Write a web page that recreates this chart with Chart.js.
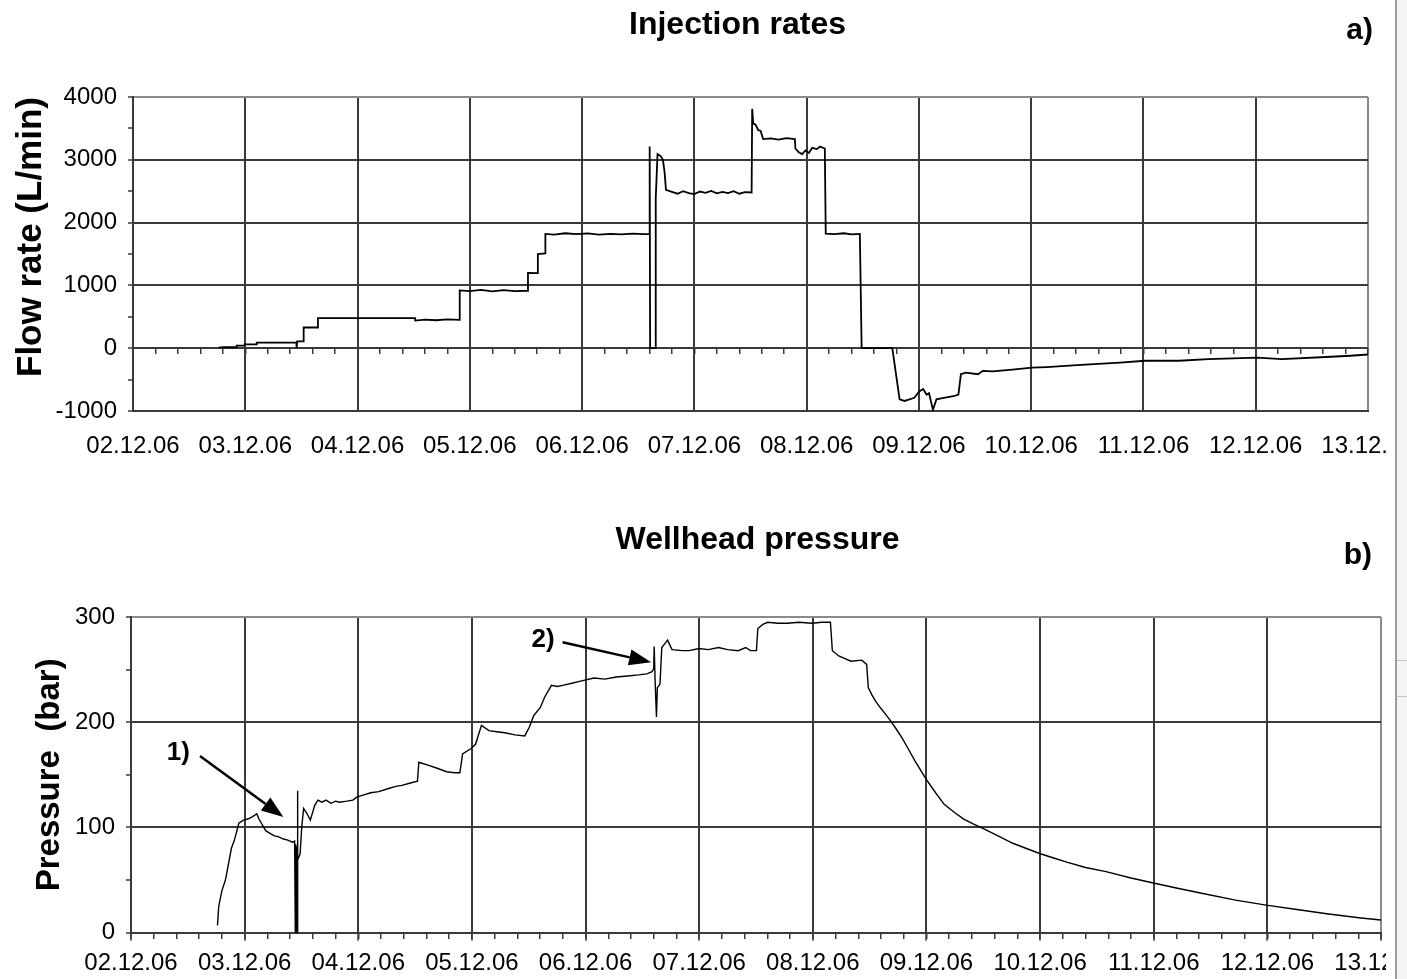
<!DOCTYPE html>
<html>
<head>
<meta charset="utf-8">
<script src="https://cdn.jsdelivr.net/npm/chart.js@4/dist/chart.umd.min.js"></script>
<style>
  html, body { margin:0; padding:0; background:#fff; overflow:hidden; width:1407px; height:979px; }
  canvas { position:absolute; left:0; }
  #c1 { top:0; }
  #c2 { top:470px; }
  .edge { position:absolute; top:0; height:979px; }
</style>
</head>
<body>
<canvas id="c1" width="1475" height="470"></canvas>
<canvas id="c2" width="1515" height="509"></canvas>
<div class="edge" style="left:1386px;width:9px;background:#fff;"></div>
<div class="edge" style="left:1395px;width:2px;background:#9c9c9c;"></div>
<div class="edge" style="left:1397px;width:10px;background:#f4f4f4;"></div>
<div style="position:absolute;left:1397px;top:660px;width:10px;height:1px;background:#c4c4c4;"></div>
<div style="position:absolute;left:1397px;top:696px;width:10px;height:1px;background:#c4c4c4;"></div>
<script>
// ---------- data ----------
const dayLabels = ['02.12.06','03.12.06','04.12.06','05.12.06','06.12.06','07.12.06',
                   '08.12.06','09.12.06','10.12.06','11.12.06','12.12.06','13.12.06'];
const chartTitles = ['Injection rates', 'Wellhead pressure'];
const axisTitles = ['Flow rate (L/min)', 'Pressure  (bar)'];
const panelLabels = ['a)', 'b)'];

// Injection rate (L/min) vs day of December 2006
const flowDays = [
  2.764,2.800,2.923,2.924,2.994,2.995,3.101,3.102,3.455,3.458,3.462,3.519,3.520,3.646,3.647,
  4.300,4.513,4.514,4.600,4.700,4.800,4.909,4.910,5.000,5.100,5.200,5.300,5.400,5.517,5.518,
  5.605,5.606,5.672,5.673,5.750,5.850,5.950,6.050,6.150,6.250,6.350,6.450,6.550,6.600,6.602,
  6.606,6.653,6.656,6.672,6.700,6.720,6.735,6.747,6.800,6.850,6.900,6.950,7.000,7.050,7.100,
  7.150,7.200,7.250,7.300,7.350,7.400,7.450,7.510,7.515,7.524,7.545,7.568,7.590,7.613,7.680,
  7.750,7.820,7.895,7.900,7.930,7.960,7.990,8.020,8.050,8.090,8.120,8.162,8.170,8.250,8.330,
  8.400,8.474,8.490,8.763,8.828,8.872,8.959,9.003,9.038,9.069,9.090,9.125,9.156,9.221,9.308,
  9.352,9.374,9.418,9.526,9.570,9.657,9.832,10.007,10.138,10.443,10.793,11.011,11.317,11.578,
  12.014,12.233,12.626,12.844,13.000
];
const flowRates = [
  10,15,15,40,40,60,60,90,90,0,110,110,330,330,480,
  480,478,440,455,445,460,450,920,910,930,905,925,910,915,1200,
  1195,1500,1510,1820,1810,1830,1815,1828,1808,1822,1812,1826,1815,1820,3210,
  0,0,2390,3090,3060,3000,2800,2520,2490,2460,2500,2470,2455,2495,2475,
  2505,2465,2490,2470,2500,2460,2485,2480,3810,3580,3560,3475,3460,3330,3340,
  3320,3345,3330,3180,3120,3090,3150,3110,3190,3170,3210,3180,1825,1815,1830,
  1812,1820,0,0,-815,-840,-790,-690,-650,-740,-715,-980,-815,-790,-765,
  -740,-415,-390,-415,-360,-370,-340,-310,-300,-265,-230,-200,-200,-175,
  -150,-175,-140,-120,-100
];

// Wellhead pressure (bar) vs day of December 2006
const pressDays = [
  2.761,2.772,2.800,2.831,2.859,2.883,2.910,2.949,2.989,3.028,3.067,3.107,3.126,3.185,3.230,
  3.264,3.300,3.342,3.380,3.421,3.440,3.446,3.450,3.454,3.458,3.462,3.465,3.468,3.488,3.503,
  3.519,3.550,3.578,3.617,3.645,3.680,3.716,3.760,3.800,3.834,3.900,3.952,3.991,4.050,4.109,
  4.180,4.267,4.330,4.384,4.450,4.521,4.533,4.620,4.700,4.777,4.850,4.894,4.918,4.993,5.032,
  5.084,5.150,5.220,5.288,5.380,5.465,5.504,5.543,5.602,5.641,5.700,5.750,5.798,5.880,5.956,
  6.074,6.170,6.270,6.370,6.467,6.540,6.585,6.600,6.604,6.612,6.624,6.632,6.655,6.671,6.700,
  6.722,6.761,6.850,6.912,7.000,7.080,7.171,7.250,7.343,7.409,7.452,7.504,7.516,7.560,7.603,
  7.690,7.775,7.880,7.991,8.080,8.155,8.172,8.228,8.336,8.431,8.474,8.488,8.520,8.552,8.600,
  8.638,8.680,8.725,8.780,8.833,8.900,8.997,9.080,9.156,9.250,9.328,9.420,9.501,9.630,9.760,
  9.880,10.002,10.120,10.235,10.400,10.580,10.800,11.007,11.220,11.443,11.720,12.004,12.260,
  12.522,12.824,13.000
];
const pressValues = [
  7,25,40,50,66,80,88,104,107,108,110,113,108,97,94,
  92,91,89,88,86,87,0,84,0,82,0,135,69,75,101,
  118,113,107,121,126,124,126,123,125,124,125,126,129,131,133,
  134,137,139,140,142,144,162,159,156,153,152,152,170,175,179,
  197,192,191,190,188,187,195,206,214,224,235,234,235,237,239,
  242,241,243,244,245,246,248,251,272,240,205,233,236,271,275,
  278,269,268,268,270,269,271,269,268,271,268,268,289,293,295,
  294,294,295,294,295,295,268,263,258,259,255,233,226,220,213,
  208,202,195,186,176,163,146,133,122,114,108,103,99,92,85,
  80,75,71,67,62,58,52,47,42,37,31,26,22,
  18,14,12
];

// annotation arrows on panel b (data coordinates: [day, bar])
const noteLabels = ['1)', '2)'];
const noteTextAt = [[2.416, 171], [5.627, 278]];
const arrowFrom  = [[2.607, 168], [5.798, 276]];
const arrowTo    = [[3.341, 110], [6.577, 257]];

// ---------- styling ----------
const FONT = '"Liberation Sans", Arial, Helvetica, sans-serif';
Chart.defaults.font.family = FONT;
Chart.defaults.color = '#000';
const gridDark = '#3a3a3a';
const gridEdge = '#8a8a8a';
const clear = 'rgba(0,0,0,0)';

const notesPlugin = {
  id: 'notes',
  afterDatasetsDraw(chart, args, opts) {
    const ctx = chart.ctx, area = chart.chartArea;
    const sx = chart.scales.x, sy = chart.scales.y;
    ctx.save();
    ctx.fillStyle = '#000';
    ctx.font = 'bold 30px ' + FONT;
    ctx.textAlign = 'right';
    ctx.textBaseline = 'alphabetic';
    ctx.fillText(opts.panel, area.right + opts.panelDx, area.top - opts.panelDy);
    (opts.notes || []).forEach(n => {
      ctx.font = 'bold 26px ' + FONT;
      ctx.textAlign = 'center';
      ctx.textBaseline = 'middle';
      ctx.fillText(n.label, sx.getPixelForValue(n.text[0]), sy.getPixelForValue(n.text[1]));
      const x1 = sx.getPixelForValue(n.from[0]), y1 = sy.getPixelForValue(n.from[1]);
      const x2 = sx.getPixelForValue(n.to[0]),   y2 = sy.getPixelForValue(n.to[1]);
      const a = Math.atan2(y2 - y1, x2 - x1);
      const hl = 22, hw = 8;
      const bx = x2 - hl * Math.cos(a), by = y2 - hl * Math.sin(a);
      ctx.strokeStyle = '#000';
      ctx.lineWidth = 2.5;
      ctx.beginPath(); ctx.moveTo(x1, y1); ctx.lineTo(bx, by); ctx.stroke();
      ctx.beginPath();
      ctx.moveTo(x2, y2);
      ctx.lineTo(bx + hw * Math.sin(a), by - hw * Math.cos(a));
      ctx.lineTo(bx - hw * Math.sin(a), by + hw * Math.cos(a));
      ctx.closePath(); ctx.fill();
    });
    ctx.restore();
  }
};

function buildChart(canvasId, p) {
  return new Chart(document.getElementById(canvasId), {
    type: 'line',
    data: {
      datasets: [{
        data: p.days.map((d, i) => ({ x: d, y: p.values[i] })),
        borderColor: '#000', borderWidth: p.lineWidth,
        pointRadius: 0, tension: 0, fill: false,
        xAxisID: 'x', yAxisID: 'y'
      }]
    },
    options: {
      responsive: false, animation: false, devicePixelRatio: 1,
      layout: { padding: 0 },
      plugins: {
        legend: { display: false },
        tooltip: { enabled: false },
        title: { display: true, text: p.title, color: '#000',
                 font: { size: 32, weight: 'bold' }, padding: p.titlePad },
        notes: { panel: p.panel, panelDx: p.panelDx, panelDy: p.panelDy, notes: p.notes }
      },
      scales: {
        x: {
          type: 'linear', position: 'bottom', min: 2, max: 13,
          ticks: { stepSize: 1, autoSkip: false, maxRotation: 0, padding: p.xPad,
                   color: '#000', font: { size: 24 },
                   callback: v => dayLabels[Math.round(v) - 2] },
          grid: { color: c => (c.tick && c.tick.value === 13) ? gridEdge : gridDark,
                  lineWidth: 2, drawTicks: p.xTickLen > 0, tickLength: p.xTickLen,
                  tickColor: gridDark, tickWidth: 1.5 },
          border: { display: true, color: gridDark, width: 2 },
          afterFit: s => { s.height = p.xHeight; }
        },
        x0: {
          type: 'linear', axis: 'x', position: { y: 0 }, min: 2, max: 13,
          ticks: { display: false, stepSize: 0.2, autoSkip: false },
          grid: { drawOnChartArea: false, drawTicks: true, tickLength: 6,
                  tickColor: gridDark, tickWidth: 1.5, lineWidth: 1.5 },
          border: { display: false }
        },
        y: {
          type: 'linear', position: 'left', min: p.yMin, max: p.yMax,
          ticks: { stepSize: p.yMinor, autoSkip: false, padding: 11, color: '#000',
                   font: { size: 24 },
                   callback: v => (v % p.yMajor === 0) ? String(v) : '' },
          grid: { color: c => {
                    if (!c.tick) return gridDark;
                    if (c.tick.value === p.yMax) return gridEdge;
                    return (c.tick.value % p.yMajor === 0) ? gridDark : clear; },
                  lineWidth: 2, tickLength: 5, tickColor: gridDark, tickWidth: 1.5 },
          border: { color: gridDark, width: 2 },
          title: { display: true, text: p.yTitle, align: p.yTitleAlign, color: '#000',
                   font: { size: p.yTitleSize, weight: 'bold' },
                   padding: { top: p.yTitlePadTop, bottom: 0 } },
          afterFit: s => { s.width = p.yWidth; }
        },
        yr: {
          type: 'linear', axis: 'y', position: 'right',
          ticks: { display: false }, grid: { display: false }, border: { display: false },
          afterFit: s => { s.width = p.rightWidth; }
        }
      }
    },
    plugins: [notesPlugin]
  });
}

buildChart('c1', {
  days: flowDays, values: flowRates, lineWidth: 1.8,
  title: chartTitles[0], titlePad: { top: 5.7, bottom: 52.9 },
  panel: panelLabels[0], panelDx: 5, panelDy: 58.5, notes: [],
  xPad: 21, xTickLen: 0, xHeight: 59,
  yMin: -1000, yMax: 4000, yMinor: 500, yMajor: 1000,
  yTitle: axisTitles[0], yTitleAlign: 'end', yTitleSize: 35, yTitlePadTop: 10,
  yWidth: 133, rightWidth: 107
});

buildChart('c2', {
  days: pressDays, values: pressValues, lineWidth: 1.4,
  title: chartTitles[1], titlePad: { top: 51.4, bottom: 57.2 },
  panel: panelLabels[1], panelDx: -9, panelDy: 53.5,
  notes: noteLabels.map((l, i) => ({ label: l, text: noteTextAt[i], from: arrowFrom[i], to: arrowTo[i] })),
  xPad: 8.5, xTickLen: 8, xHeight: 46.3,
  yMin: 0, yMax: 300, yMinor: 50, yMajor: 100,
  yTitle: axisTitles[1], yTitleAlign: 'center', yTitleSize: 33, yTitlePadTop: 30,
  yWidth: 131, rightWidth: 134
});
</script>
</body>
</html>
